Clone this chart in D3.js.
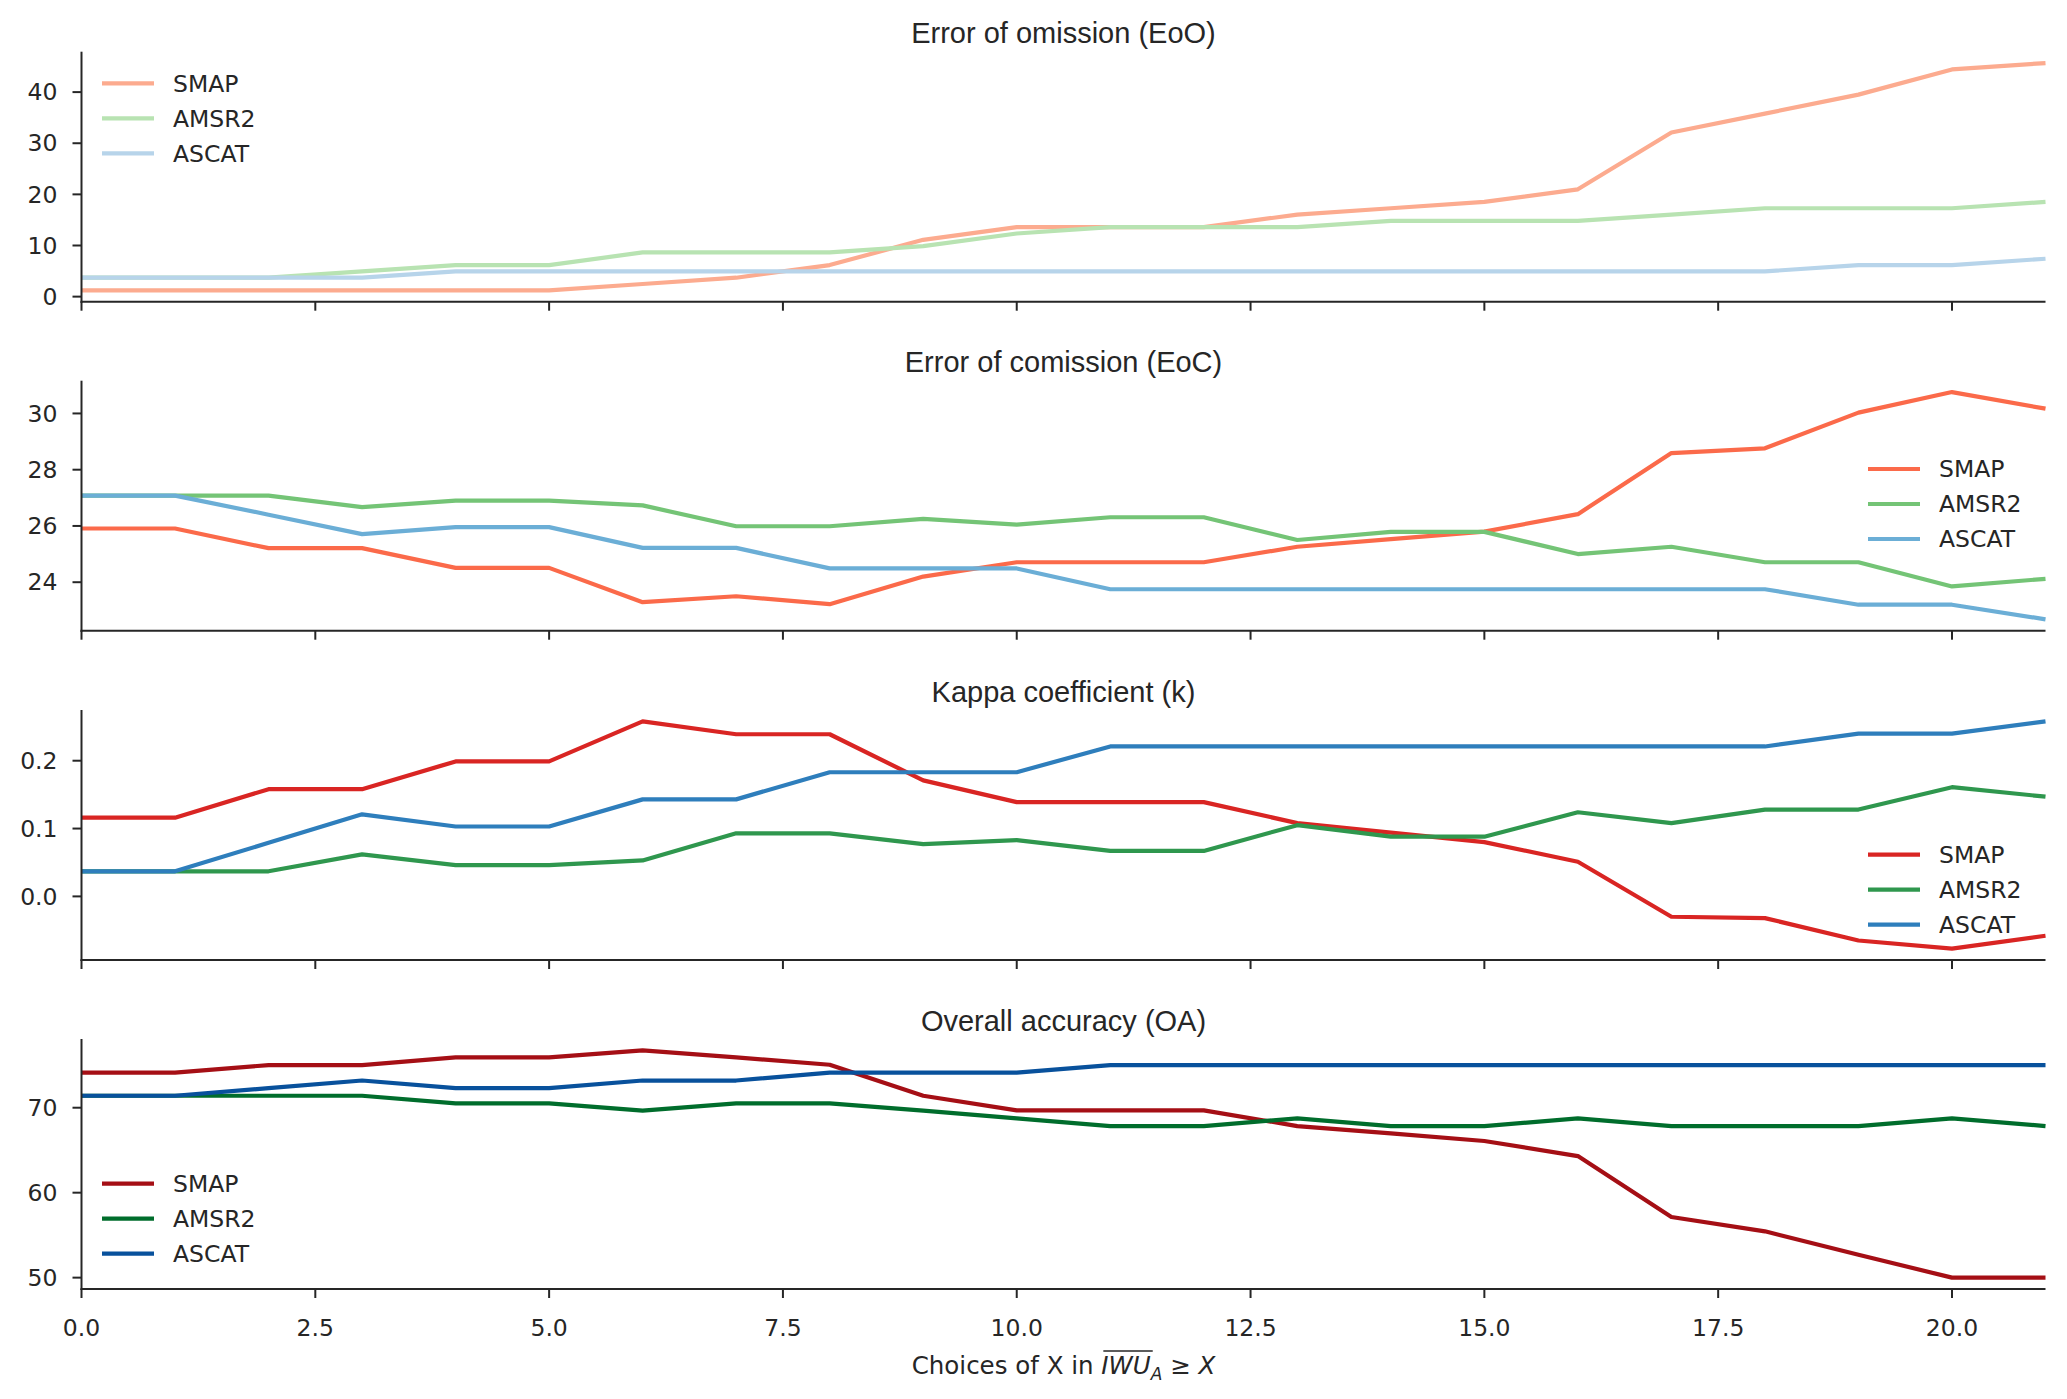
<!DOCTYPE html>
<head>
  <meta charset="utf-8">
  <title>IWU accuracy</title>
  <script src="https://cdn.jsdelivr.net/npm/d3@7"></script>
</head>

<style>
  body {
    margin: 0;
    background: white;
  }

  text {
    fill: #262626;
    font-family: "DejaVu Sans", sans-serif;
  }

  .title {
    font-family: "Liberation Sans", Arial, sans-serif;
    font-size: 29px;
  }

  .tick-label, .legend-label {
    font-size: 23.5px;
  }

  .spine {
    stroke: #262626;
    stroke-width: 2;
  }

  .tick-mark {
    stroke: #262626;
    stroke-width: 2;
  }

  .series {
    fill: none;
    stroke-width: 4.2;
    stroke-linejoin: round;
  }
</style>

<body>
  <svg id='svg-chart'></svg>
</body>

<script>

// x values (choices of X)
var xs = [0, 1, 2, 3, 4, 5, 6, 7, 8, 9, 10, 11, 12, 13, 14, 15, 16, 17, 18, 19, 20, 21];

var sensors = ['SMAP', 'AMSR2', 'ASCAT'];

var titles = ['Error of omission (EoO)', 'Error of comission (EoC)',
              'Kappa coefficient (k)', 'Overall accuracy (OA)'];

// error of omission
var smap_eoo  = [1.23, 1.23, 1.23, 1.23, 1.23, 1.23, 2.47, 3.70, 6.17, 11.11, 13.58, 13.58, 13.58, 16.05, 17.28, 18.52, 20.99, 32.10, 35.80, 39.51, 44.44, 45.68];
var amsr_eoo  = [3.70, 3.70, 3.70, 4.94, 6.17, 6.17, 8.64, 8.64, 8.64, 9.88, 12.35, 13.58, 13.58, 13.58, 14.81, 14.81, 14.81, 16.05, 17.28, 17.28, 17.28, 18.52];
var ascat_eoo = [3.70, 3.70, 3.70, 3.70, 4.94, 4.94, 4.94, 4.94, 4.94, 4.94, 4.94, 4.94, 4.94, 4.94, 4.94, 4.94, 4.94, 4.94, 4.94, 6.17, 6.17, 7.41];

// error of comission
var smap_eoc  = [25.91, 25.91, 25.21, 25.21, 24.51, 24.51, 23.29, 23.50, 23.22, 24.20, 24.71, 24.71, 24.71, 25.26, 25.53, 25.80, 26.42, 28.59, 28.76, 30.03, 30.76, 30.17];
var amsr_eoc  = [27.08, 27.08, 27.08, 26.67, 26.90, 26.90, 26.73, 25.99, 25.99, 26.25, 26.05, 26.31, 26.31, 25.50, 25.79, 25.79, 25.00, 25.26, 24.71, 24.71, 23.85, 24.12];
var ascat_eoc = [27.08, 27.08, 26.40, 25.71, 25.96, 25.96, 25.22, 25.22, 24.49, 24.49, 24.49, 23.75, 23.75, 23.75, 23.75, 23.75, 23.75, 23.75, 23.75, 23.20, 23.20, 22.68];

// kappa coefficient
var smap_k  = [0.116, 0.116, 0.158, 0.158, 0.199, 0.199, 0.258, 0.239, 0.239, 0.171, 0.139, 0.139, 0.139, 0.108, 0.094, 0.080, 0.051, -0.030, -0.032, -0.065, -0.077, -0.058];
var amsr_k  = [0.037, 0.037, 0.037, 0.062, 0.046, 0.046, 0.053, 0.093, 0.093, 0.077, 0.083, 0.067, 0.067, 0.105, 0.088, 0.088, 0.124, 0.108, 0.128, 0.128, 0.161, 0.147];
var ascat_k = [0.037, 0.037, 0.079, 0.121, 0.103, 0.103, 0.143, 0.143, 0.183, 0.183, 0.183, 0.221, 0.221, 0.221, 0.221, 0.221, 0.221, 0.221, 0.221, 0.240, 0.240, 0.258];

// overall accuracy
var smap_oa  = [74.12, 74.12, 75.02, 75.02, 75.92, 75.92, 76.75, 75.92, 75.06, 71.41, 69.69, 69.69, 69.69, 67.84, 66.98, 66.08, 64.31, 57.14, 55.45, 52.70, 50.00, 50.00];
var amsr_oa  = [71.41, 71.41, 71.41, 71.41, 70.51, 70.51, 69.65, 70.51, 70.51, 69.65, 68.75, 67.84, 67.84, 68.75, 67.84, 67.84, 68.75, 67.84, 67.84, 67.84, 68.75, 67.84];
var ascat_oa = [71.41, 71.41, 72.30, 73.20, 72.30, 72.30, 73.20, 73.20, 74.12, 74.12, 74.12, 75.02, 75.02, 75.02, 75.02, 75.02, 75.02, 75.02, 75.02, 75.02, 75.02, 75.02];

var x_ticks = [0, 2.5, 5, 7.5, 10, 12.5, 15, 17.5, 20];
var y_ticks = [[0, 10, 20, 30, 40], [24, 26, 28, 30], [0.0, 0.1, 0.2], [50, 60, 70]];
var y_fmt = [d3.format('d'), d3.format('d'), d3.format('.1f'), d3.format('d')];

var panel_series = [[smap_eoo, amsr_eoo, ascat_eoo],
                    [smap_eoc, amsr_eoc, ascat_eoc],
                    [smap_k, amsr_k, ascat_k],
                    [smap_oa, amsr_oa, ascat_oa]];

var panel_colours = [['#fcab8f', '#b8e3b2', '#b7d4ea'],
                     ['#fb6a4a', '#74c476', '#6baed6'],
                     ['#d92523', '#2f974e', '#2e7ebc'],
                     ['#a50f15', '#006d2c', '#08519c']];

// layout
var width = 2067,
    height = 1399,
    left = 81.5,
    right = 2045.5,
    panel_top = [51.7, 380.7, 710, 1039],
    panel_h = 250,
    tick_len = 9;

// legend placement (x of handle start, y of first row relative to panel top)
var legend_pos = [[102, 31.6], [1868, 88.3], [1868, 144.7], [102, 144.7]];
var legend_row = 35;

var svg = d3.select('#svg-chart')
  .attr('width', width)
  .attr('height', height);

var x = d3.scaleLinear().domain([0, 21]).range([left, right]);

panel_series.forEach(function(series, p) {

  var top = panel_top[p],
      bottom = top + panel_h;

  var all = d3.merge(series),
      lo = d3.min(all),
      hi = d3.max(all),
      pad = (hi - lo) * 0.05;

  var y = d3.scaleLinear().domain([lo - pad, hi + pad]).range([bottom, top]);

  var g = svg.append('g').attr('class', 'panel');

  g.append('text')
    .attr('class', 'title')
    .attr('x', (left + right) / 2)
    .attr('y', top - 8.5)
    .attr('text-anchor', 'middle')
    .text(titles[p]);

  // series lines
  var line = d3.line()
    .x(function(d, i) { return x(xs[i]); })
    .y(function(d) { return y(d); });

  g.selectAll('path.series')
    .data(series)
    .enter()
    .append('path')
    .attr('class', 'series')
    .attr('stroke', function(d, i) { return panel_colours[p][i]; })
    .attr('d', line);

  // spines
  g.append('line').attr('class', 'spine')
    .attr('x1', left).attr('x2', left)
    .attr('y1', top).attr('y2', bottom + 1);
  g.append('line').attr('class', 'spine')
    .attr('x1', left - 1).attr('x2', right)
    .attr('y1', bottom).attr('y2', bottom);

  // y ticks
  var yt = g.selectAll('g.ytick')
    .data(y_ticks[p])
    .enter()
    .append('g')
    .attr('class', 'ytick')
    .attr('transform', function(d) { return 'translate(0,' + y(d) + ')'; });

  yt.append('line').attr('class', 'tick-mark')
    .attr('x1', left - tick_len).attr('x2', left);

  yt.append('text').attr('class', 'tick-label')
    .attr('x', left - 24)
    .attr('dy', '0.35em')
    .attr('text-anchor', 'end')
    .text(function(d) { return y_fmt[p](d); });

  // x ticks
  var xt = g.selectAll('g.xtick')
    .data(x_ticks)
    .enter()
    .append('g')
    .attr('class', 'xtick')
    .attr('transform', function(d) { return 'translate(' + x(d) + ',0)'; });

  xt.append('line').attr('class', 'tick-mark')
    .attr('y1', bottom).attr('y2', bottom + tick_len);

  if (p == panel_series.length - 1) {
    xt.append('text').attr('class', 'tick-label')
      .attr('y', bottom + 47)
      .attr('text-anchor', 'middle')
      .text(function(d) { return d3.format('.1f')(d); });
  }

  // legend
  var lg = g.selectAll('g.legend-item')
    .data(sensors)
    .enter()
    .append('g')
    .attr('class', 'legend-item')
    .attr('transform', function(d, i) {
      return 'translate(' + legend_pos[p][0] + ',' + (top + legend_pos[p][1] + i * legend_row) + ')';
    });

  lg.append('line')
    .attr('x1', 0).attr('x2', 52)
    .attr('stroke', function(d, i) { return panel_colours[p][i]; })
    .attr('stroke-width', 4.2);

  lg.append('text').attr('class', 'legend-label')
    .attr('x', 71)
    .attr('dy', '0.35em')
    .text(function(d) { return d; });
});

// x label with math part
var xlabel = svg.append('text')
  .attr('y', 1374)
  .style('font-size', '24.5px');

var prefix = 'Choices of X in ';
xlabel.append('tspan').text(prefix);
xlabel.append('tspan').style('font-style', 'italic').text('IWU');
xlabel.append('tspan').style('font-style', 'italic')
  .style('font-size', '17px').attr('dy', 6).text('A');
xlabel.append('tspan').attr('dy', -6).text(' \u2265 ');
xlabel.append('tspan').style('font-style', 'italic').text('X');

var total = xlabel.node().getComputedTextLength();
var x0 = (left + right) / 2 - total / 2;
xlabel.attr('x', x0);
xlabel.select('tspan').attr('x', x0);

var ov_start = x0 + xlabel.node().getSubStringLength(0, prefix.length);
var ov_len = xlabel.node().getSubStringLength(prefix.length, 3);
svg.append('line')
  .attr('x1', ov_start + 2).attr('x2', ov_start + ov_len + 2)
  .attr('y1', 1374 - 23).attr('y2', 1374 - 23)
  .attr('stroke', '#262626')
  .attr('stroke-width', 1.6);

</script>
